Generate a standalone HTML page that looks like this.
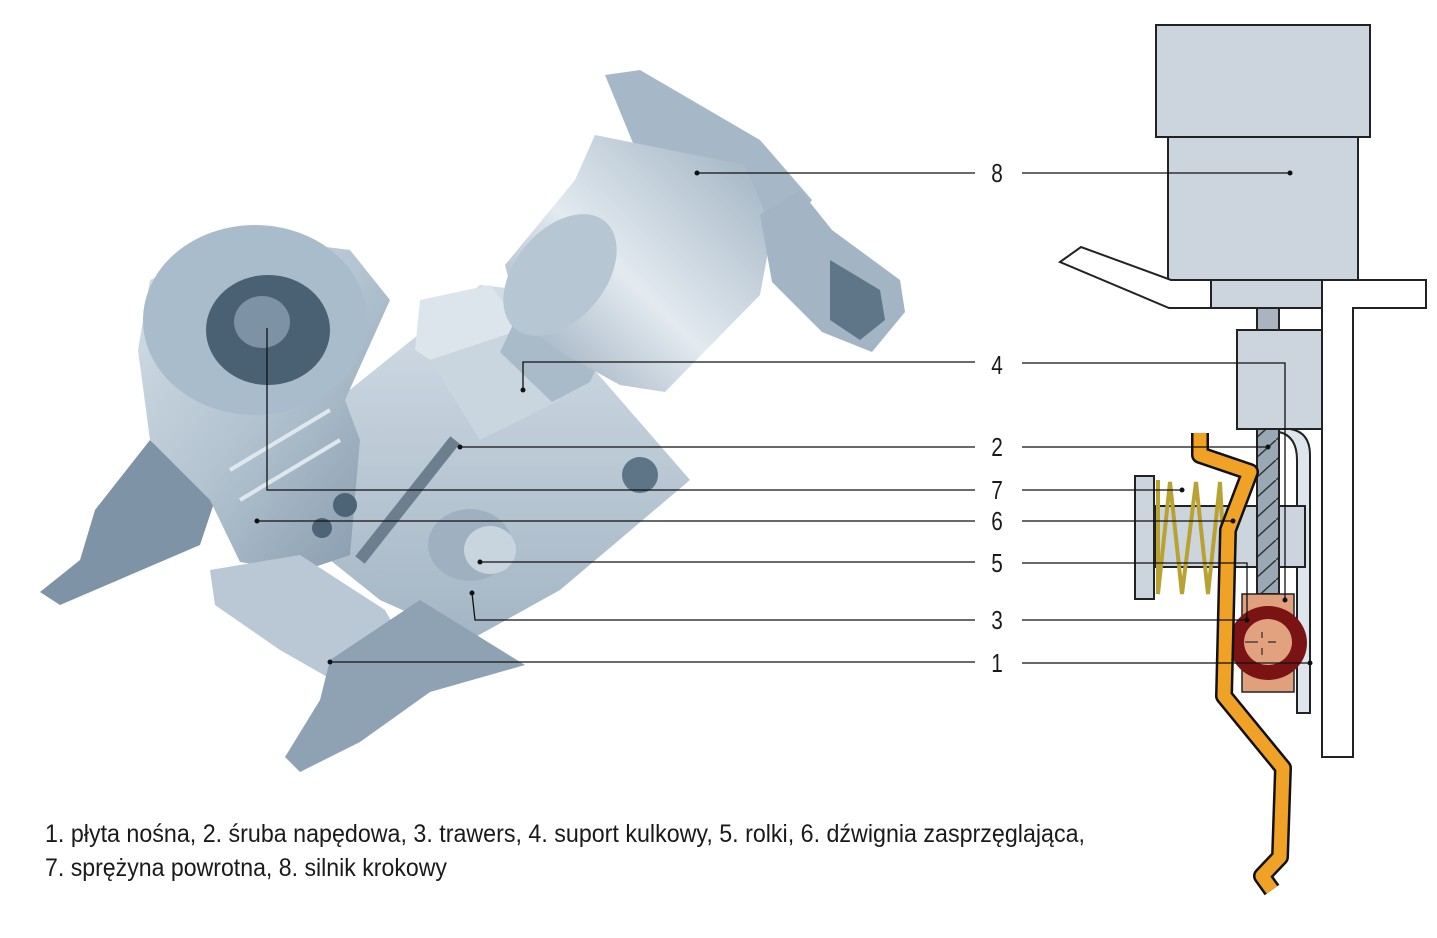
<!DOCTYPE html>
<html><head><meta charset="utf-8"><style>
html,body{margin:0;padding:0;background:#fff;}
svg{display:block}
text{font-family:"Liberation Sans",sans-serif;fill:#1a1a1a}
</style></head><body>
<svg width="1437" height="938" viewBox="0 0 1437 938" xmlns="http://www.w3.org/2000/svg">
<defs>
<linearGradient id="g1" x1="0" y1="0" x2="1" y2="1"><stop offset="0" stop-color="#d6e0e8"/><stop offset="0.5" stop-color="#b3c3d0"/><stop offset="1" stop-color="#8398aa"/></linearGradient>
<linearGradient id="g2" x1="0" y1="1" x2="1" y2="0"><stop offset="0" stop-color="#8ea2b4"/><stop offset="0.45" stop-color="#e3eaf0"/><stop offset="1" stop-color="#9aaebe"/></linearGradient>
<linearGradient id="g3" x1="0" y1="0" x2="0" y2="1"><stop offset="0" stop-color="#d3dde6"/><stop offset="1" stop-color="#a3b5c4"/></linearGradient>
<pattern id="hatch" width="22" height="20" patternUnits="userSpaceOnUse"><rect width="22" height="20" fill="#9aa8b6"/><line x1="0" y1="20" x2="22" y2="0" stroke="#333" stroke-width="1.5"/></pattern>
</defs>

<!-- LEFT ILLUSTRATION (approximate) -->
<g stroke="none">
<polygon points="95,510 150,440 215,500 200,545 60,605 40,592 80,560" fill="#7e93a6"/>
<polygon points="300,430 480,285 525,290 690,480 560,590 470,640 380,600 330,560" fill="url(#g3)"/>
<polygon points="150,280 255,238 350,250 390,300 345,400 360,440 350,555 300,572 240,562 210,500 150,440 138,350" fill="url(#g1)"/>
<polygon points="210,570 300,555 385,610 430,690 350,690 280,650 215,605" fill="#b9c8d4"/>
<polygon points="330,660 420,600 525,665 430,692 360,742 300,772 285,757 320,700" fill="#8ea2b4"/>
<ellipse cx="255" cy="320" rx="112" ry="95" fill="#a9bccb"/>
<ellipse cx="268" cy="330" rx="62" ry="55" fill="#4a6174"/>
<ellipse cx="262" cy="322" rx="28" ry="26" fill="#7d92a4"/>
<line x1="360" y1="560" x2="455" y2="440" stroke="#6d7f8f" stroke-width="12"/>
<polygon points="420,300 490,285 540,350 470,385 415,350" fill="#dde5ec"/>
<polygon points="430,360 520,330 560,400 480,440" fill="#c9d5df"/>
<ellipse cx="470" cy="545" rx="42" ry="36" fill="#9fb1c1"/>
<ellipse cx="490" cy="550" rx="26" ry="24" fill="#c8d4de"/>
<circle cx="640" cy="475" r="18" fill="#5e7487"/>
<circle cx="345" cy="505" r="12" fill="#4d6376"/>
<circle cx="322" cy="528" r="10" fill="#4d6376"/>
<polygon points="605,75 640,70 760,140 812,200 790,232 640,160" fill="#a6b8c7"/>
<polygon points="520,310 600,360 590,382 552,402 500,352" fill="#a9bac8"/>
<polygon points="595,135 745,165 772,230 760,295 665,392 620,385 560,352 520,322 505,265 575,180" fill="url(#g2)"/>
<ellipse cx="560" cy="275" rx="45" ry="70" transform="rotate(40 560 275)" fill="#b6c6d3"/>
<polygon points="760,215 800,190 832,230 900,280 905,312 872,352 822,332 772,282" fill="#a3b5c4"/>
<polygon points="830,260 880,290 885,320 860,340 830,320" fill="#5f7588"/>
<line x1="230" y1="470" x2="330" y2="410" stroke="#dfe7ee" stroke-width="4"/>
<line x1="240" y1="500" x2="340" y2="440" stroke="#dfe7ee" stroke-width="4"/>
</g>

<!-- leader lines left -->
<g stroke="#111" stroke-width="1.3" fill="none">
<line x1="697" y1="173" x2="975" y2="173"/>
<polyline points="523,390 523,362 975,362"/>
<line x1="460" y1="447" x2="975" y2="447"/>
<polyline points="267,328 267,490 975,490"/>
<line x1="257" y1="521" x2="975" y2="521"/>
<line x1="480" y1="562" x2="975" y2="562"/>
<polyline points="472,593 475,620 975,620"/>
<line x1="330" y1="662" x2="975" y2="662"/>
</g>
<g fill="#111">
<circle cx="697" cy="173" r="2.5"/><circle cx="523" cy="390" r="2.5"/><circle cx="460" cy="447" r="2.5"/>
<circle cx="257" cy="521" r="2.5"/><circle cx="480" cy="562" r="2.5"/><circle cx="472" cy="593" r="2.5"/><circle cx="330" cy="662" r="2.5"/>
</g>

<!-- labels -->
<g font-size="26" text-anchor="middle">
<text x="997" y="182" transform="translate(997 0) scale(0.8 1) translate(-997 0)">8</text>
<text x="997" y="374" transform="translate(997 0) scale(0.8 1) translate(-997 0)">4</text>
<text x="997" y="456" transform="translate(997 0) scale(0.8 1) translate(-997 0)">2</text>
<text x="997" y="499" transform="translate(997 0) scale(0.8 1) translate(-997 0)">7</text>
<text x="997" y="530" transform="translate(997 0) scale(0.8 1) translate(-997 0)">6</text>
<text x="997" y="572" transform="translate(997 0) scale(0.8 1) translate(-997 0)">5</text>
<text x="997" y="629" transform="translate(997 0) scale(0.8 1) translate(-997 0)">3</text>
<text x="997" y="672" transform="translate(997 0) scale(0.8 1) translate(-997 0)">1</text>
</g>

<!-- RIGHT SCHEMATIC -->
<g stroke="#222" stroke-width="2">
<rect x="1156" y="25" width="214" height="112" fill="#ccd4dd"/>
<rect x="1168" y="137" width="190" height="143" fill="#ccd4dd"/>
<polygon points="1060,262 1081,247 1171,280 1426,280 1426,308 1353,308 1353,757 1322,757 1322,308 1169,308" fill="#fff"/>
<rect x="1211" y="280" width="111" height="28" fill="#ccd4dd"/>
<rect x="1257" y="308" width="22" height="22" fill="#a9b4c0"/>
<rect x="1237" y="330" width="85" height="99" fill="#ccd4dd"/>
<path d="M1279,429 L1290,429 Q1310,432 1310,455 L1310,713 L1297,713 L1297,460 Q1297,436 1279,432 Z" fill="#dfe5ec"/>
<rect x="1155" y="506" width="150" height="61" fill="#ccd4dd"/>
<rect x="1257" y="429" width="22" height="165" fill="url(#hatch)"/>
<rect x="1135" y="476" width="19" height="123" fill="#ccd4dd"/>
<rect x="1242" y="594" width="52" height="98" fill="#e0a07c" stroke-width="1.5"/>
</g>
<polyline points="1158,480 1158,594 1170,482 1182,594 1196,482 1208,594 1220,482 1226,594" fill="none" stroke="#b8a232" stroke-width="4"/>
<ellipse cx="1268" cy="643" rx="39" ry="37" fill="#7a1414"/>
<ellipse cx="1268" cy="642" rx="24" ry="23" fill="#e3a27f"/>
<g stroke="#333" stroke-width="1.3"><line x1="1262" y1="632" x2="1262" y2="638"/><line x1="1262" y1="648" x2="1262" y2="655"/><line x1="1245" y1="642" x2="1258" y2="642"/><line x1="1268" y1="642" x2="1276" y2="642"/></g>
<path d="M1200,433 L1200,455 L1250,472 L1228,530 L1224,696 L1283,768 L1280,857 L1262,876 L1272,890" fill="none" stroke="#111" stroke-width="18" stroke-linejoin="round"/>
<path d="M1200,433 L1200,455 L1250,472 L1228,530 L1224,696 L1283,768 L1280,857 L1262,876 L1272,890" fill="none" stroke="#f0a226" stroke-width="13" stroke-linejoin="round"/>

<!-- leader lines right -->
<g stroke="#111" stroke-width="1.3" fill="none">
<line x1="1022" y1="173" x2="1290" y2="173"/>
<polyline points="1022,363 1285,363 1285,600"/>
<line x1="1022" y1="447" x2="1268" y2="447"/>
<line x1="1022" y1="490" x2="1182" y2="490"/>
<line x1="1022" y1="521" x2="1233" y2="521"/>
<polyline points="1022,563 1247,563 1247,620"/>
<line x1="1022" y1="620" x2="1247" y2="620"/>
<line x1="1022" y1="663" x2="1310" y2="663"/>
</g>
<g fill="#111">
<circle cx="1290" cy="173" r="2.5"/><circle cx="1285" cy="600" r="2.5"/><circle cx="1268" cy="447" r="2.5"/>
<circle cx="1182" cy="490" r="2.5"/><circle cx="1233" cy="521" r="2.5"/><circle cx="1247" cy="620" r="2.5"/><circle cx="1310" cy="663" r="2.5"/>
</g>

<!-- caption -->
<text x="45" y="842" font-size="25" textLength="1040" lengthAdjust="spacingAndGlyphs">1. płyta nośna, 2. śruba napędowa, 3. trawers, 4. suport kulkowy, 5. rolki, 6. dźwignia zasprzęglająca,</text>
<text x="45" y="876" font-size="25" textLength="402" lengthAdjust="spacingAndGlyphs">7. sprężyna powrotna, 8. silnik krokowy</text>
</svg>
</body></html>
